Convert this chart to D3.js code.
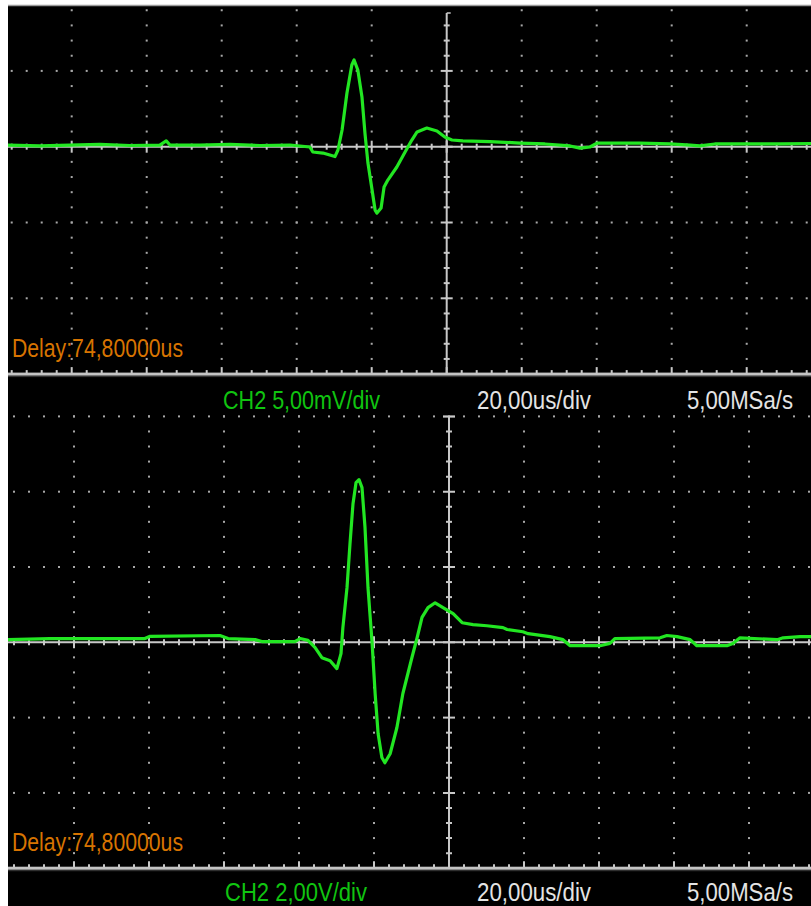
<!DOCTYPE html>
<html>
<head>
<meta charset="utf-8">
<script src="https://cdn.jsdelivr.net/npm/d3@7"></script>
<style>
  html, body { margin: 0; padding: 0; background: #fff; }
  svg { display: block; }
</style>
</head>
<body>
<svg id="scope" width="811" height="906"></svg>
<script>
// ---- Captured waveforms (time in us relative to the trigger point) ----
// Upper screen: CH2 at 5 mV/div
const topTime = [-117, -108.5, -100.5, -92.5, -84.5, -76.5, -74.8, -73.8, -65.8, -57.8, -49.8, -41.8,
  -36.5, -35.7, -33.0, -29.8, -29.0, -27.9, -26.6, -25.3, -24.7, -23.7, -22.6, -21.8, -21.0, -19.9,
  -19.1, -18.6, -17.5, -16.7, -15.7, -13.3, -11.1, -9.3, -7.9, -5.3, -2.6, -0.5, 1.4, 4.3, 11.5,
  19.5, 26.2, 32.9, 35.5, 38.2, 40.1, 51.5, 59.5, 64.9, 67.5, 71.5, 80.9, 88.9, 97.2];
const topMillivolts = [0.11, 0.05, 0.11, 0.15, 0.08, 0.11, 0.38, 0.11, 0.11, 0.15, 0.08, 0.11,
  -0.02, -0.35, -0.42, -0.65, -0.22, 1.10, 3.54, 5.39, 5.72, 5.06, 3.28, 0.90, -1.08, -2.86,
  -4.18, -4.38, -4.05, -2.66, -2.20, -1.34, -0.35, 0.44, 0.97, 1.23, 1.04, 0.64, 0.44, 0.38, 0.34,
  0.24, 0.18, 0.05, -0.09, -0.02, 0.24, 0.24, 0.18, 0.11, 0.05, 0.18, 0.18, 0.18, 0.21];

// Lower screen: CH2 at 2 V/div
const bottomTime = [-117.6, -106.4, -93.1, -81.1, -79.7, -61.1, -58.9, -51.7, -49.9, -41.1, -39.7,
  -37.6, -35.7, -33.9, -31.7, -29.9, -28.8, -28.3, -27.2, -26.4, -25.6, -24.8, -24.0, -23.2, -22.4,
  -21.6, -20.5, -19.7, -18.9, -17.9, -17.1, -15.7, -13.9, -12.3, -9.9, -8.5, -7.2, -5.6, -3.7, -1.6,
  1.1, 3.5, 6.4, 10.1, 14.4, 15.5, 19.7, 21.1, 26.9, 30.4, 32.3, 40.3, 42.9, 44.3, 56.3, 58.1, 60.8,
  64.3, 66.1, 74.1, 75.7, 77.6, 87.5, 89.1, 93.6, 96.5];
const bottomVolts = [0.07, 0.10, 0.10, 0.10, 0.16, 0.18, 0.10, 0.07, 0.02, 0.02, 0.10,
  0.05, -0.14, -0.41, -0.49, -0.70, -0.30, 0.39, 1.45, 2.62, 3.68, 4.24, 4.32, 4.11, 3.05,
  1.45, -0.03, -1.36, -2.43, -3.06, -3.20, -2.96, -2.27, -1.36, -0.41, 0.12, 0.66, 0.92, 1.05, 0.92,
  0.76, 0.52, 0.47, 0.44, 0.39, 0.34, 0.28, 0.23, 0.15, 0.07, -0.09, -0.09, -0.03, 0.10, 0.12, 0.18, 0.15,
  0.07, -0.09, -0.09, -0.03, 0.12, 0.07, 0.12, 0.15, 0.15];

// ---- Status-bar texts ----
const delayText = "Delay:74,80000us";
const channelLabels = ["CH2 5,00mV/div", "CH2 2,00V/div"];
const timebaseText = "20,00us/div";
const sampleRateText = "5,00MSa/s";

// ---- Screen settings ----
const timePerDiv = 20;          // us/div
const timeDomain = [-120, 100]; // visible sweep window
const voltsPerDiv = [5, 2];
const voltDomains = [[-15, 10], [-6, 6]];

const W = 811, H = 906, LEFT = 8;
const svg = d3.select("#scope");

// window frame
svg.append("rect").attr("width", W).attr("height", H).attr("fill", "#ffffff");
svg.append("rect").attr("x", LEFT).attr("y", 6).attr("width", W - LEFT).attr("height", H - 6).attr("fill", "#000");
svg.append("line").attr("x1", LEFT).attr("x2", W).attr("y1", 5.5).attr("y2", 5.5)
  .attr("stroke", "#9a9a9a").attr("stroke-width", 1.5);

const screens = [
  { time: topTime, values: topMillivolts, vpd: voltsPerDiv[0], vDom: voltDomains[0],
    xc: 446.7, dx: 75, yc: 146.7, dy: 75.8, clipTop: 7, axisTop: 13,
    label: channelLabels[0], labelX: 223, labelW: 157 },
  { time: bottomTime, values: bottomVolts, vpd: voltsPerDiv[1], vDom: voltDomains[1],
    xc: 449, dx: 75, yc: 642.3, dy: 75.3, clipTop: 377, axisTop: 416.4,
    label: channelLabels[1], labelX: 225, labelW: 142 }
];

const GRID = "#a8a8a8", AXIS = "#c8c8c8", TRACE = "#22e622";

screens.forEach((s, i) => {
  const divsLeft = (0 - timeDomain[0]) / timePerDiv;
  const divsRight = timeDomain[1] / timePerDiv;
  const x = d3.scaleLinear().domain(timeDomain).range([s.xc - divsLeft * s.dx, s.xc + divsRight * s.dx]);
  const divsBelow = -s.vDom[0] / s.vpd, divsAbove = s.vDom[1] / s.vpd;
  const y = d3.scaleLinear().domain(s.vDom).range([s.yc + divsBelow * s.dy, s.yc - divsAbove * s.dy]);
  const border = y(s.vDom[0]);

  const g = svg.append("g");
  const clipId = "clip" + i;
  svg.append("clipPath").attr("id", clipId).append("rect")
    .attr("x", LEFT).attr("y", s.clipTop).attr("width", W - LEFT).attr("height", border - s.clipTop);

  const tMinor = d3.range(timeDomain[0], timeDomain[1] + 1e-6, timePerDiv / 5).map(v => +v.toFixed(3));
  const vMinor = d3.range(s.vDom[0], s.vDom[1] + 1e-6, s.vpd / 5).map(v => +v.toFixed(3));
  const isMajorT = t => Math.abs(t / timePerDiv - Math.round(t / timePerDiv)) < 1e-6;
  const isMajorV = v => Math.abs(v / s.vpd - Math.round(v / s.vpd)) < 1e-6;

  const dots = [];
  // dotted vertical division lines
  tMinor.filter(t => isMajorT(t) && t !== 0).forEach(t => {
    vMinor.forEach(v => {
      if (v === s.vDom[0]) return;
      dots.push([x(t), y(v)]);
    });
  });
  // dotted horizontal division lines
  vMinor.filter(v => isMajorV(v) && v !== 0 && v !== s.vDom[0]).forEach(v => {
    tMinor.forEach(t => dots.push([x(t), y(v)]));
  });
  const grid = g.append("g").attr("clip-path", `url(#${clipId})`);
  grid.selectAll("rect.dot").data(dots.filter(d => d[0] >= LEFT + 2 && d[0] <= W && d[1] >= s.clipTop))
    .join("rect").attr("class", "dot")
    .attr("x", d => d[0] - 1).attr("y", d => d[1] - 1).attr("width", 2).attr("height", 2)
    .attr("fill", GRID);

  // centre horizontal axis with ticks
  const y0 = y(0), x0 = x(0);
  grid.append("line").attr("x1", LEFT).attr("x2", W).attr("y1", y0).attr("y2", y0)
    .attr("stroke", AXIS).attr("stroke-width", 2);
  grid.selectAll("line.ht").data(tMinor).join("line").attr("class", "ht")
    .attr("x1", d => x(d)).attr("x2", d => x(d))
    .attr("y1", d => y0 - (isMajorT(d) ? 6 : 3)).attr("y2", d => y0 + (isMajorT(d) ? 6 : 3))
    .attr("stroke", AXIS).attr("stroke-width", 2);

  // centre vertical axis with ticks
  grid.append("line").attr("x1", x0).attr("x2", x0).attr("y1", s.axisTop).attr("y2", border)
    .attr("stroke", AXIS).attr("stroke-width", 2);
  grid.selectAll("line.vt").data(vMinor.filter(v => y(v) >= s.axisTop - 1 && v !== s.vDom[0]))
    .join("line").attr("class", "vt")
    .attr("x1", d => x0 - (isMajorV(d) ? 6 : 3)).attr("x2", d => x0 + (isMajorV(d) ? 6 : 3))
    .attr("y1", d => y(d)).attr("y2", d => y(d))
    .attr("stroke", AXIS).attr("stroke-width", 2);
  grid.append("line").attr("x1", x0 - (i ? 6 : 0)).attr("x2", x0 + (i ? 6 : 4))
    .attr("y1", s.axisTop).attr("y2", s.axisTop).attr("stroke", AXIS).attr("stroke-width", 1.5);

  // waveform
  const pts = s.time.map((t, k) => [t, s.values[k]]);
  g.append("path").attr("clip-path", `url(#${clipId})`)
    .datum(pts)
    .attr("d", d3.line().x(d => x(d[0])).y(d => y(d[1])))
    .attr("fill", "none").attr("stroke", TRACE).attr("stroke-width", 3.2)
    .attr("stroke-linejoin", "round").attr("stroke-linecap", "round");

  // bottom frame with graduation ticks
  g.selectAll("line.bt").data(tMinor.filter(t => x(t) >= LEFT + 2 && x(t) <= W)).join("line")
    .attr("class", "bt")
    .attr("x1", d => x(d)).attr("x2", d => x(d))
    .attr("y1", border).attr("y2", d => border - (isMajorT(d) ? 7 : 4))
    .attr("stroke", AXIS).attr("stroke-width", 2);
  g.append("rect").attr("x", LEFT).attr("y", border - 1.5).attr("width", W - LEFT).attr("height", 3)
    .attr("fill", "#c4c4c4");
  g.append("line").attr("x1", LEFT).attr("x2", W).attr("y1", border + 2.5).attr("y2", border + 2.5)
    .attr("stroke", "#3a3a3a").attr("stroke-width", 1);

  // status texts
  const txt = (str, xPos, yPos, w, col) => g.append("text")
    .attr("x", xPos).attr("y", yPos).text(str)
    .attr("textLength", w).attr("lengthAdjust", "spacingAndGlyphs")
    .attr("font-family", "'Liberation Sans', Arial, sans-serif").attr("font-size", 25.5)
    .attr("fill", col);
  const statusY = Math.min(border + 35, H - 5);
  txt(delayText, 12, border - 17.5, 171, "#d87400");
  txt(s.label, s.labelX, statusY, s.labelW, "#10c410");
  txt(timebaseText, 477, statusY, 114, "#e4e4e4");
  txt(sampleRateText, 687, statusY, 106, "#e4e4e4");
});
</script>
</body>
</html>
